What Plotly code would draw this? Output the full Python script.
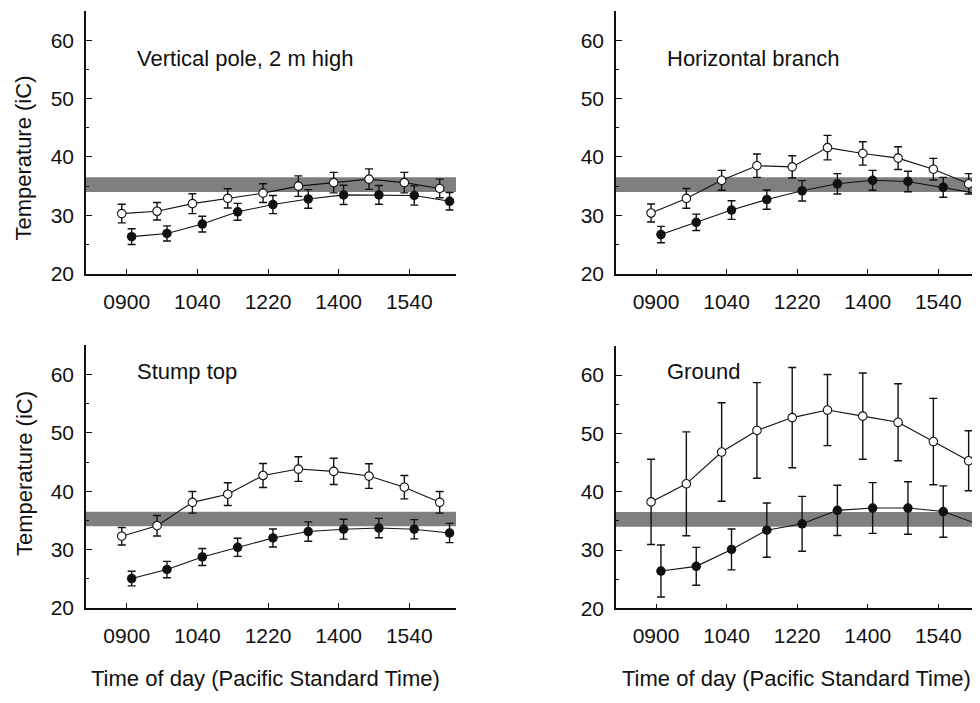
import plotly.graph_objects as go

# ---------------- data ----------------
# sampling times, minutes after midnight (0900, 0950, 1040, ... 1630)
times = [540, 590, 640, 690, 740, 790, 840, 890, 940, 990]
tick_vals = [540, 640, 740, 840, 940]
tick_text = ["0900", "1040", "1220", "1400", "1540"]

panel_titles = ["Vertical pole, 2 m high", "Horizontal branch", "Stump top", "Ground"]

# open circles
pole_open = [30.3, 30.7, 32.0, 32.9, 33.8, 35.0, 35.6, 36.2, 35.6, 34.6]
pole_open_err = [1.6, 1.5, 1.7, 1.65, 1.6, 1.75, 1.75, 1.75, 1.75, 1.6]
branch_open = [30.4, 32.9, 36.0, 38.5, 38.3, 41.6, 40.6, 39.8, 37.9, 35.4]
branch_open_err = [1.55, 1.7, 1.7, 2.0, 1.9, 2.1, 2.0, 1.95, 1.85, 1.75]
stump_open = [32.3, 34.1, 38.1, 39.5, 42.7, 43.8, 43.4, 42.6, 40.7, 38.1]
stump_open_err = [1.5, 1.75, 1.85, 1.95, 2.05, 2.1, 2.25, 2.1, 2.0, 1.85]
ground_open = [38.25, 41.35, 46.8, 50.5, 52.7, 54.0, 52.95, 51.9, 48.6, 45.3]
ground_open_err = [7.3, 8.9, 8.45, 8.2, 8.6, 6.1, 7.4, 6.6, 7.4, 5.15]

# filled circles
pole_filled = [26.35, 26.9, 28.5, 30.6, 31.85, 32.8, 33.5, 33.5, 33.4, 32.4]
pole_filled_err = [1.35, 1.3, 1.35, 1.45, 1.55, 1.6, 1.65, 1.6, 1.65, 1.5]
branch_filled = [26.7, 28.8, 30.9, 32.7, 34.2, 35.4, 36.0, 35.8, 34.8, 33.7]
branch_filled_err = [1.4, 1.4, 1.6, 1.65, 1.75, 1.75, 1.7, 1.75, 1.7, 1.6]
stump_filled = [25.05, 26.6, 28.75, 30.4, 32.0, 33.1, 33.5, 33.7, 33.5, 32.85]
stump_filled_err = [1.25, 1.4, 1.45, 1.55, 1.55, 1.65, 1.7, 1.65, 1.65, 1.65]
ground_filled = [26.4, 27.2, 30.1, 33.4, 34.5, 36.8, 37.2, 37.2, 36.6, 34.4]
ground_filled_err = [4.45, 3.25, 3.5, 4.65, 4.7, 4.3, 4.35, 4.5, 4.4, 3.65]

# preferred body temperature band
band_low, band_high = 34.0, 36.5

open_shift = -7     # horizontal jitter (minutes) so the two series don't overlap
filled_shift = 7

panels = [
    (pole_open, pole_open_err, pole_filled, pole_filled_err),
    (branch_open, branch_open_err, branch_filled, branch_filled_err),
    (stump_open, stump_open_err, stump_filled, stump_filled_err),
    (ground_open, ground_open_err, ground_filled, ground_filled_err),
]

# ---------------- figure ----------------
OFF = 8                       # default page body margin
W, H = 980 - OFF, 703 - OFF
FONT = "Liberation Sans, Arial, Helvetica, sans-serif"
INK = "#111111"


def px(xp):
    return (xp - OFF) / W


def py(yp):
    return 1 - (yp - OFF) / H


# page-pixel geometry of the four plotting areas (left, right, top, bottom)
boxes = [
    (86, 456, 11, 278, [482.4, 1006.1]),
    (616, 980, 11, 278, [483.3, 999.1]),
    (86, 456, 350.7, 617.7, [482.4, 1006.1]),
    (616, 980, 351.3, 618.0, [483.3, 999.1]),
]

fig = go.Figure()
layout = dict(
    width=W, height=H,
    margin=dict(l=0, r=0, t=0, b=0),
    paper_bgcolor="white", plot_bgcolor="white",
    showlegend=False,
    font=dict(family=FONT, color=INK, size=21),
)

shapes = []
annotations = []
for i, ((o, oe, f, fe), (l, r, t, b, xr)) in enumerate(zip(panels, boxes)):
    n = "" if i == 0 else str(i + 1)
    xa, ya = "x" + n, "y" + n
    layout["xaxis" + n] = dict(
        domain=[px(l), min(1.0, px(r))], range=xr, anchor=ya,
        tickvals=tick_vals, ticktext=tick_text,
        ticks="inside", ticklen=5, tickwidth=1.3, tickcolor=INK,
        showline=True, linecolor=INK, linewidth=1.5, mirror=False,
        showgrid=False, zeroline=False,
        tickfont=dict(size=21, family=FONT, color=INK),
        ticklabelstandoff=8,
    )
    layout["yaxis" + n] = dict(
        domain=[py(b), py(t)], range=[20, 65], anchor=xa,
        tickvals=[20, 30, 40, 50, 60],
        ticks="inside", ticklen=6, tickwidth=1.3, tickcolor=INK,
        minor=dict(dtick=5, tick0=0, ticks="inside", ticklen=3, tickwidth=1.3, tickcolor=INK),
        showline=True, linecolor=INK, linewidth=1.5, mirror=False,
        showgrid=False, zeroline=False,
        tickfont=dict(size=21, family=FONT, color=INK),
        ticklabelstandoff=6,
    )
    shapes.append(dict(
        type="rect", xref=xa + " domain", yref=ya,
        x0=0, x1=1, y0=band_low, y1=band_high,
        fillcolor="#7f7f7f", line=dict(width=0), layer="below",
    ))
    fig.add_trace(go.Scatter(
        x=[tt + open_shift for tt in times], y=o,
        mode="lines+markers", xaxis=xa, yaxis=ya,
        line=dict(color=INK, width=1.1),
        marker=dict(symbol="circle", size=8.5, color="white", line=dict(color=INK, width=1.1)),
        error_y=dict(type="data", array=oe, visible=True, color=INK, thickness=1.4, width=4),
    ))
    fig.add_trace(go.Scatter(
        x=[tt + filled_shift for tt in times], y=f,
        mode="lines+markers", xaxis=xa, yaxis=ya,
        line=dict(color=INK, width=1.1),
        marker=dict(symbol="circle", size=9.5, color=INK, line=dict(color=INK, width=0)),
        error_y=dict(type="data", array=fe, visible=True, color=INK, thickness=1.4, width=4),
    ))
    # panel title
    ty = 59.2 if i < 2 else 377.5
    annotations.append(dict(
        text=panel_titles[i], xref="paper", yref="paper",
        x=px(l + 49), y=py(ty), xanchor="left", yanchor="middle",
        showarrow=False, font=dict(size=22, family=FONT, color=INK),
    ))

# y-axis titles (left column) and x-axis titles (bottom row)
for yc in (161, 481.5):
    annotations.append(dict(
        text="Temperature (iC)", xref="paper", yref="paper",
        x=px(24), y=py(yc), xanchor="center", yanchor="middle",
        textangle=-90, showarrow=False, font=dict(size=22, family=FONT, color=INK),
    ))
for xc in (265, 796.7):
    annotations.append(dict(
        text="Time of day (Pacific Standard Time)", xref="paper", yref="paper",
        x=px(xc), y=py(689), xanchor="center", yanchor="middle",
        showarrow=False, font=dict(size=22, family=FONT, color=INK),
    ))

layout["shapes"] = shapes
layout["annotations"] = annotations
fig.update_layout(**layout)

fig.write_html("out.html")
